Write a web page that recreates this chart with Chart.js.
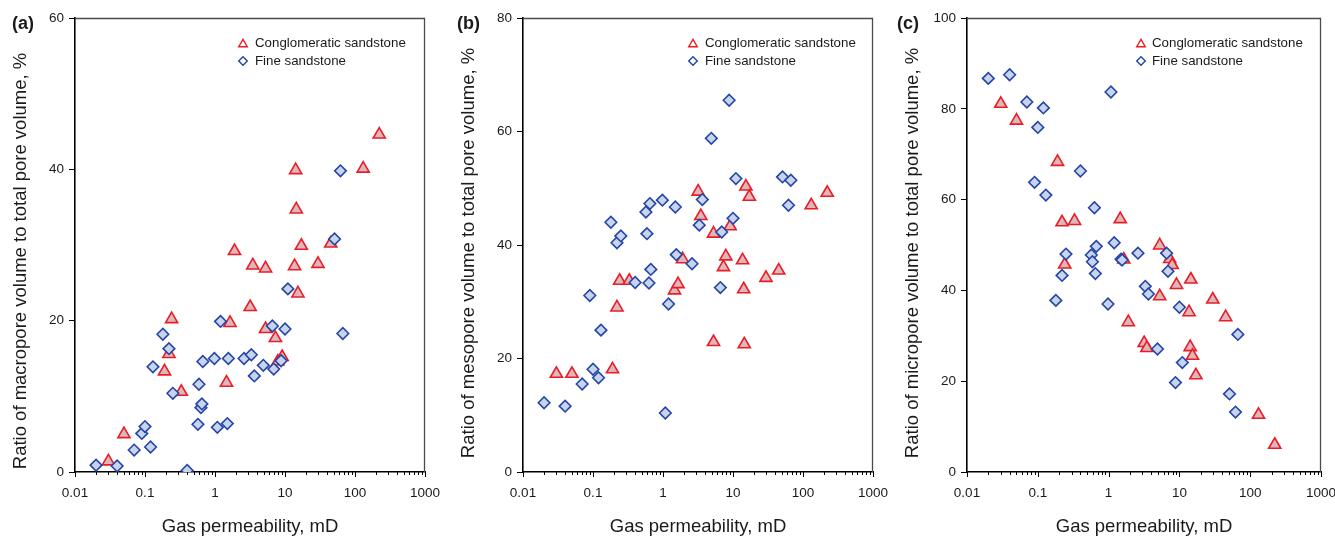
<!DOCTYPE html>
<html>
<head>
<meta charset="utf-8">
<script src="https://cdn.jsdelivr.net/npm/chart.js@4/dist/chart.umd.min.js"></script>
<style>
  html, body { margin: 0; padding: 0; background: #fff; }
  #wrap { position: relative; width: 1335px; height: 536px; overflow: hidden; background: #fff; }
  #wrap canvas { position: absolute; top: 0; }
</style>
</head>
<body>
<div id="wrap">
  <canvas id="c0" width="446" height="536" style="left:0px"></canvas>
  <canvas id="c1" width="442" height="536" style="left:448px"></canvas>
  <canvas id="c2" width="443" height="536" style="left:892px"></canvas>
</div>
<script>
// ---------------- DATA ----------------
const seriesNames = ['Conglomeratic sandstone', 'Fine sandstone'];
const xTitle = 'Gas permeability, mD';
const xTickLabels = ['0.01', '0.1', '1', '10', '100', '1000'];
const panelLetters = ['(a)', '(b)', '(c)'];
const yTitles = [
  'Ratio of macropore volume to total pore volume, %',
  'Ratio of mesopore volume to total pore volume, %',
  'Ratio of micropore volume to total pore volume, %'
];
const yMax = [60, 80, 100];
const yStep = [20, 20, 20];

// Conglomeratic sandstone samples
const congPerm  = [0.03, 0.05, 0.19, 0.22, 0.24, 0.33, 1.46, 1.64, 1.9, 3.18, 3.47, 5.27, 5.27, 7.3, 7.9, 9.1, 13.7, 14.2, 14.5, 15.3, 17.1, 29.6, 45, 131, 222];
const congMacro = [1.4, 5.0, 13.3, 15.6, 20.2, 10.6, 11.8, 19.7, 29.2, 21.8, 27.3, 26.9, 18.9, 17.7, 14.6, 15.2, 27.2, 39.9, 34.7, 23.6, 29.9, 27.5, 30.2, 40.1, 44.6];
const congMeso  = [17.3, 17.3, 18.1, 29.0, 33.7, 33.7, 32.0, 33.1, 37.5, 49.4, 45.1, 22.9, 42.0, 36.1, 38.0, 43.3, 37.3, 32.2, 22.5, 50.3, 48.5, 34.2, 35.5, 47.0, 49.2];
const congMicro = [81.1, 77.4, 68.3, 55.0, 45.7, 55.3, 55.7, 46.8, 33.0, 28.4, 27.3, 49.9, 38.7, 46.9, 45.6, 41.2, 35.2, 27.5, 42.4, 25.6, 21.3, 38.0, 34.1, 12.6, 6.0];

// Fine sandstone samples
const finePerm  = [0.02, 0.04, 0.07, 0.09, 0.1, 0.12, 0.13, 0.18, 0.22, 0.25, 0.4, 0.57, 0.59, 0.63, 0.65, 0.67, 0.98, 1.08, 1.2, 1.5, 1.55, 2.6, 3.3, 3.65, 4.9, 6.6, 6.9, 8.8, 10, 11, 51, 62, 67];
const fineMacro = [0.9, 0.8, 2.9, 5.1, 6.0, 3.3, 13.9, 18.2, 16.3, 10.4, 0.2, 6.3, 11.6, 8.5, 9.0, 14.6, 15.0, 5.9, 19.9, 6.4, 15.0, 15.0, 15.5, 12.7, 14.1, 19.3, 13.6, 14.7, 18.9, 24.2, 30.8, 39.8, 18.3];
const fineMeso  = [12.2, 11.6, 15.5, 31.1, 18.1, 16.6, 25.0, 44.0, 40.4, 41.6, 33.4, 45.8, 42.0, 33.3, 47.3, 35.7, 47.9, 10.4, 29.6, 46.7, 38.3, 36.7, 43.5, 48.0, 58.8, 32.5, 42.3, 65.5, 44.7, 51.7, 52.0, 47.0, 51.4];
const fineMicro = [86.7, 87.5, 81.5, 63.8, 75.9, 80.2, 61.0, 37.8, 43.3, 48.0, 66.3, 47.8, 46.3, 58.2, 43.7, 49.7, 37.0, 83.7, 50.5, 46.9, 46.7, 48.2, 40.9, 39.2, 27.1, 48.2, 44.2, 19.7, 36.3, 24.1, 17.2, 13.2, 30.3];

const congByPanel = [congMacro, congMeso, congMicro];
const fineByPanel = [fineMacro, fineMeso, fineMicro];

// ---------------- STYLE / LAYOUT ----------------
const FONT = "'Liberation Sans', Arial, Helvetica, sans-serif";
const TEXT = '#1a1a1a';
const RED = '#ec1c24', RED_FILL = '#dcb7bd';
const BLUE = '#2346a8', BLUE_FILL = '#c9d4ea';
const layouts = [
  { right: 21, letterX: 12, titleCY: 261, legendDX: 168, legendTX: 180 },
  { right: 17, letterX: 9,  titleCY: 253, legendDX: 170, legendTX: 182 },
  { right: 14, letterX: 5,  titleCY: 253, legendDX: 174, legendTX: 185 }
];

Chart.defaults.font.family = FONT;
Chart.defaults.color = TEXT;

function triPath(ctx, x, y, w) {
  const h = w * Math.sqrt(3) / 2;
  ctx.beginPath();
  ctx.moveTo(x, y - h / 2);
  ctx.lineTo(x + w / 2, y + h / 2);
  ctx.lineTo(x - w / 2, y + h / 2);
  ctx.closePath();
}
function diaPath(ctx, x, y, r) {
  ctx.beginPath();
  ctx.moveTo(x, y - r);
  ctx.lineTo(x + r, y);
  ctx.lineTo(x, y + r);
  ctx.lineTo(x - r, y);
  ctx.closePath();
}

const decor = {
  id: 'decor',
  beforeDatasetsDraw(chart, args, o) {
    const ctx = chart.ctx, ca = chart.chartArea, xs = chart.scales.x;
    ctx.save();
    // top and right frame
    ctx.strokeStyle = '#4a4a4a';
    ctx.lineWidth = 1.3;
    ctx.beginPath();
    ctx.moveTo(ca.left, ca.top + 0.5);
    ctx.lineTo(ca.right - 0.5, ca.top + 0.5);
    ctx.lineTo(ca.right - 0.5, ca.bottom);
    ctx.stroke();
    // log ticks on x axis (major + minor)
    ctx.strokeStyle = '#000';
    ctx.lineWidth = 1;
    const lo = Math.log10(xs.min), hi = Math.log10(xs.max);
    for (let e = Math.round(lo); e <= Math.round(hi); e++) {
      for (let m = 1; m <= 9; m++) {
        const v = m * Math.pow(10, e);
        if (v > xs.max * 1.0001) break;
        const px = Math.round(xs.getPixelForValue(v)) + 0.5;
        const len = m === 1 ? 5 : 3;
        ctx.beginPath();
        ctx.moveTo(px, ca.bottom);
        ctx.lineTo(px, ca.bottom + len);
        ctx.stroke();
      }
    }
    ctx.restore();
  },
  afterDraw(chart, args, o) {
    const ctx = chart.ctx, ca = chart.chartArea;
    ctx.save();
    // y axis title
    ctx.fillStyle = TEXT;
    ctx.font = '18.5px ' + FONT;
    ctx.textAlign = 'center';
    ctx.textBaseline = 'middle';
    ctx.translate(ca.left - 54, o.titleCY);
    ctx.rotate(-Math.PI / 2);
    ctx.fillText(o.yTitle, 0, 0);
    ctx.restore();

    ctx.save();
    // panel letter
    ctx.fillStyle = TEXT;
    ctx.font = 'bold 18px ' + FONT;
    ctx.textAlign = 'left';
    ctx.textBaseline = 'middle';
    ctx.fillText(o.letter, o.letterX, 24);
    // legend
    const lx = ca.left + o.legendDX, tx = ca.left + o.legendTX;
    const rows = [43, 61];
    ctx.lineWidth = 1.4;
    ctx.fillStyle = '#fff';
    ctx.strokeStyle = RED;
    triPath(ctx, lx, rows[0], 8.5);
    ctx.fill(); ctx.stroke();
    ctx.strokeStyle = BLUE;
    diaPath(ctx, lx, rows[1], 4.3);
    ctx.fill(); ctx.stroke();
    ctx.fillStyle = TEXT;
    ctx.font = '13.3px ' + FONT;
    ctx.textAlign = 'left';
    ctx.textBaseline = 'middle';
    ctx.fillText(seriesNames[0], tx, rows[0]);
    ctx.fillText(seriesNames[1], tx, rows[1]);
    ctx.restore();
  }
};

const xTickValues = xTickLabels.map(Number);

function makeChart(i) {
  const L = layouts[i];
  const congData = congPerm.map((x, k) => ({ x: x, y: congByPanel[i][k] }));
  const fineData = finePerm.map((x, k) => ({ x: x, y: fineByPanel[i][k] }));
  return new Chart(document.getElementById('c' + i), {
    type: 'scatter',
    data: {
      datasets: [
        {
          label: seriesNames[0], data: congData, order: 1,
          pointStyle: 'triangle', radius: 7, hoverRadius: 7,
          borderColor: RED, backgroundColor: RED_FILL, borderWidth: 1.6
        },
        {
          label: seriesNames[1], data: fineData, order: 0,
          pointStyle: 'rectRot', radius: 5.8, hoverRadius: 5.8,
          borderColor: BLUE, backgroundColor: BLUE_FILL, borderWidth: 1.6
        }
      ]
    },
    options: {
      responsive: false,
      animation: false,
      events: [],
      layout: { padding: { left: 0, top: 18, right: L.right, bottom: 0 } },
      plugins: {
        legend: { display: false },
        tooltip: { enabled: false },
        decor: { letter: panelLetters[i], yTitle: yTitles[i], titleCY: L.titleCY, letterX: L.letterX,
                 legendDX: L.legendDX, legendTX: L.legendTX }
      },
      scales: {
        x: {
          type: 'logarithmic',
          min: xTickValues[0], max: xTickValues[xTickValues.length - 1],
          afterBuildTicks: (s) => { s.ticks = xTickValues.map(v => ({ value: v })); },
          afterFit: (s) => { s.height = 64; s.paddingLeft = 0; s.paddingRight = 0; },
          grid: { display: false },
          border: { display: true, color: '#000', width: 1.6 },
          ticks: {
            autoSkip: false, maxRotation: 0, padding: 5,
            font: { size: 13.5 }, color: TEXT,
            callback: (v, idx) => xTickLabels[idx]
          },
          title: { display: true, text: xTitle, font: { size: 18.5, lineHeight: 1 }, padding: { top: 0, bottom: 0 }, color: TEXT }
        },
        y: {
          type: 'linear',
          min: 0, max: yMax[i],
          afterFit: (s) => { s.width = 75; s.paddingTop = 0; s.paddingBottom = 0; },
          grid: { display: true, drawOnChartArea: false, drawTicks: true, tickLength: 6, color: '#000', lineWidth: 1 },
          border: { display: true, color: '#000', width: 1.6 },
          ticks: { stepSize: yStep[i], padding: 5, font: { size: 13.5 }, color: TEXT },
          title: { display: false }
        }
      }
    },
    plugins: [decor]
  });
}

[0, 1, 2].forEach(makeChart);
</script>
</body>
</html>
